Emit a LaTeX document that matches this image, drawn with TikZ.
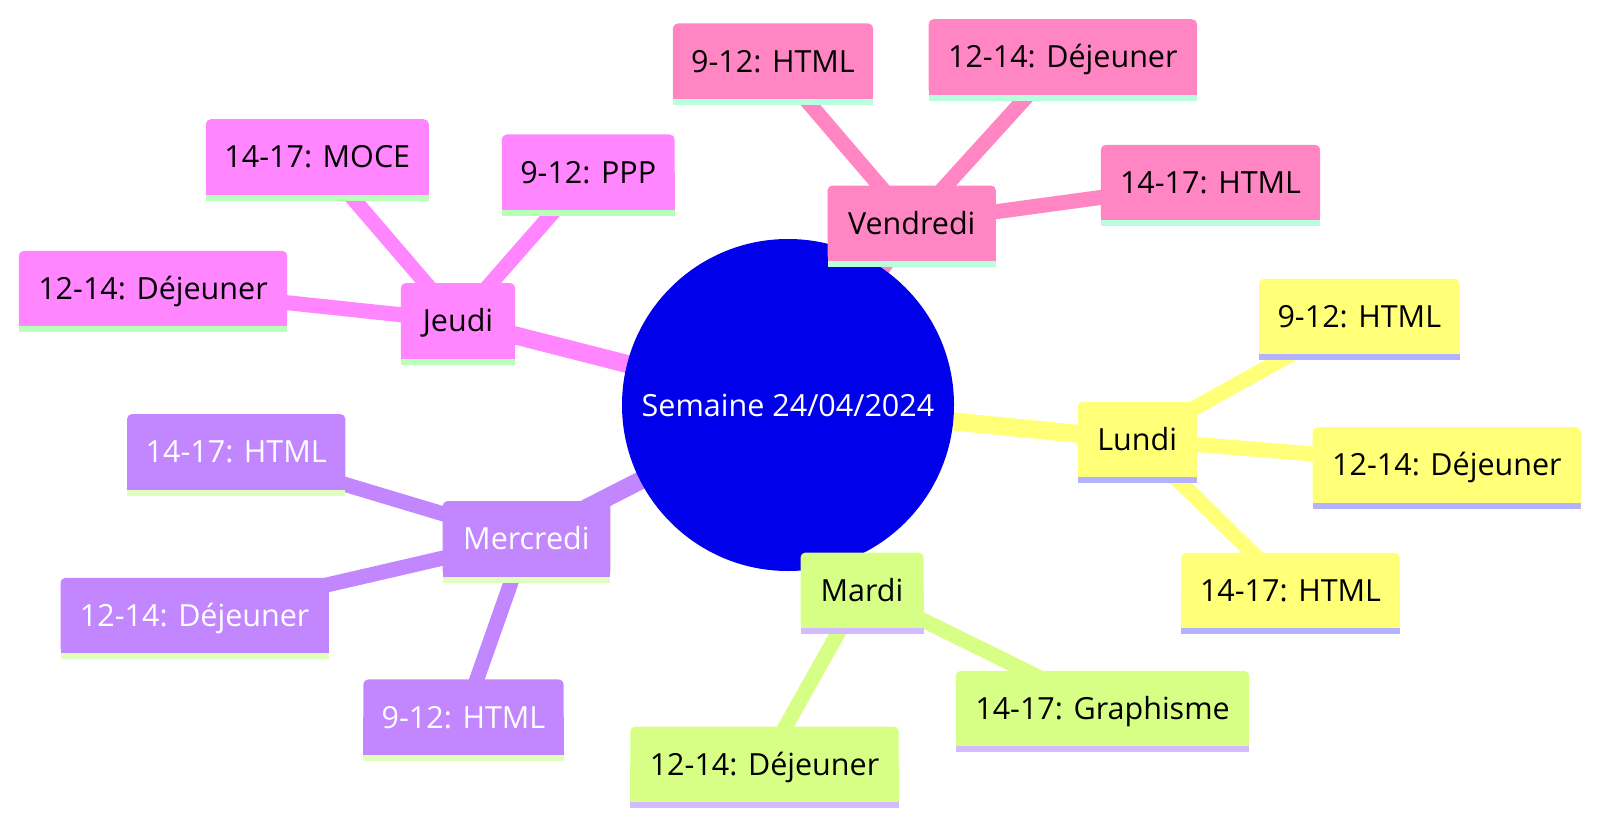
\documentclass[tikz,border=0pt]{standalone}
\usepackage{fontspec}
\setmainfont{Open Sans}
\usetikzlibrary{backgrounds}
\definecolor{rootc}{RGB}{0,0,235}
\definecolor{lunc}{RGB}{255,255,120}
\definecolor{luns}{RGB}{178,178,255}
\definecolor{marc}{RGB}{215,255,134}
\definecolor{mars}{RGB}{210,188,255}
\definecolor{merc}{RGB}{194,134,255}
\definecolor{mers}{RGB}{222,255,190}
\definecolor{jeuc}{RGB}{255,134,255}
\definecolor{jeus}{RGB}{184,255,184}
\definecolor{venc}{RGB}{255,134,194}
\definecolor{vens}{RGB}{184,255,222}
\newcommand\mmshape[3]{%
  \fill[#2,rounded corners=5pt] (#1.south west) rectangle (#1.north east);
  \fill[#2] (#1.west) rectangle (#1.south east);
  \fill[#3] (#1.south west) rectangle ([yshift=-6pt]#1.south east);}
\begin{document}
\begin{tikzpicture}[x=1pt,y=-1pt,
  mm/.style={font=\fontsize{30.5}{36}\selectfont, inner sep=0pt, minimum height=75pt,
    text height=22pt, text depth=0pt},
  blk/.style={mm,text=black},
  wht/.style={mm,text=white},
  e0/.style={line width=18pt},
  e1/.style={line width=15pt}]
\useasboundingbox (0,0) rectangle (1600,824);
% root
\node[circle, inner sep=0pt, minimum size=332pt, text=white,
  font=\fontsize{30.5}{36}\selectfont] (root) at (788,405) {Semaine 24/04/2024};
% level 1
\node[blk, minimum width=119pt] (lun) at (1137.2,439.7) {Lundi};
\node[blk, minimum width=122.6pt] (mar) at (862,590.2) {Mardi};
\node[wht, minimum width=167.3pt] (mer) at (526.4,538.8) {Mercredi};
\node[blk, minimum width=114pt] (jeu) at (458,320.8) {Jeudi};
\node[blk, minimum width=168pt] (ven) at (911.7,223.2) {Vendredi};
% Lundi leaves
\node[blk, minimum width=200pt] (l1) at (1359.3,316.5) {9-12: HTML};
\node[blk, minimum width=268pt] (l2) at (1446.9,464.8) {12-14: Déjeuner};
\node[blk, minimum width=218pt] (l3) at (1290.5,590.5) {14-17: HTML};
% Mardi leaves
\node[blk, minimum width=293pt] (ma1) at (1102.5,708.5) {14-17: Graphisme};
\node[blk, minimum width=268pt] (ma2) at (764.5,764.2) {12-14: Déjeuner};
% Mercredi leaves
\node[wht, minimum width=218pt] (me1) at (236.2,451.8) {14-17: HTML};
\node[wht, minimum width=268pt] (me2) at (194.7,615.5) {12-14: Déjeuner};
\node[wht, minimum width=200pt] (me3) at (463.5,717.1) {9-12: HTML};
% Jeudi leaves
\node[blk, minimum width=222.6pt] (j1) at (317.3,156.9) {14-17: MOCE};
\node[blk, minimum width=172.5pt] (j2) at (588.2,172.2) {9-12: PPP};
\node[blk, minimum width=268pt] (j3) at (153,288.5) {12-14: Déjeuner};
% Vendredi leaves
\node[blk, minimum width=200pt] (v1) at (773,61.2) {9-12: HTML};
\node[blk, minimum width=268pt] (v2) at (1062.8,56.9) {12-14: Déjeuner};
\node[blk, minimum width=219pt] (v3) at (1210.5,182.5) {14-17: HTML};
\begin{scope}[on background layer]
  % edges
  \draw[e0,lunc] (root.center) -- (lun.center);
  \draw[e0,marc] (root.center) -- (mar.center);
  \draw[e0,merc] (root.center) -- (mer.center);
  \draw[e0,jeuc] (root.center) -- (jeu.center);
  \draw[e0,venc] (root.center) -- (ven.center);
  \foreach \n in {l1,l2,l3} \draw[e1,lunc] (lun.center) -- (\n.center);
  \foreach \n in {ma1,ma2} \draw[e1,marc] (mar.center) -- (\n.center);
  \foreach \n in {me1,me2,me3} \draw[e1,merc] (mer.center) -- (\n.center);
  \foreach \n in {j1,j2,j3} \draw[e1,jeuc] (jeu.center) -- (\n.center);
  \foreach \n in {v1,v2,v3} \draw[e1,venc] (ven.center) -- (\n.center);
  % root disc
  \fill[rootc] (root.center) circle (166pt);
  % boxes
  \mmshape{lun}{lunc}{luns}
  \mmshape{l1}{lunc}{luns}
  \mmshape{l2}{lunc}{luns}
  \mmshape{l3}{lunc}{luns}
  \mmshape{mar}{marc}{mars}
  \mmshape{ma1}{marc}{mars}
  \mmshape{ma2}{marc}{mars}
  \mmshape{mer}{merc}{mers}
  \mmshape{me1}{merc}{mers}
  \mmshape{me2}{merc}{mers}
  \mmshape{me3}{merc}{mers}
  \mmshape{jeu}{jeuc}{jeus}
  \mmshape{j1}{jeuc}{jeus}
  \mmshape{j2}{jeuc}{jeus}
  \mmshape{j3}{jeuc}{jeus}
  \mmshape{ven}{venc}{vens}
  \mmshape{v1}{venc}{vens}
  \mmshape{v2}{venc}{vens}
  \mmshape{v3}{venc}{vens}
\end{scope}
\end{tikzpicture}
\end{document}
